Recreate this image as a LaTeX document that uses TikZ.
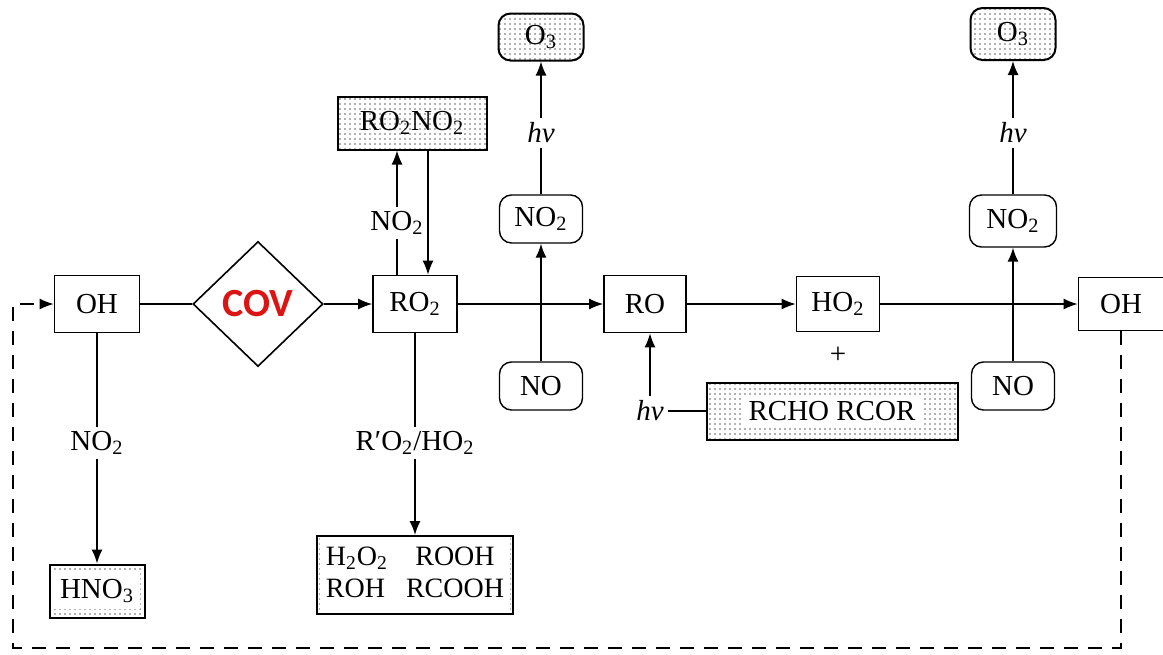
\documentclass[tikz,border=0pt]{standalone}
\usepackage{fontspec}
\setmainfont{Liberation Serif}
\newfontfamily\covfont{Carlito}
\usepackage{tikz}
\usetikzlibrary{shapes.geometric,arrows.meta,positioning,patterns.meta,calc}
\definecolor{covred}{RGB}{220,20,20}
\definecolor{dotgray}{RGB}{100,100,100}
\newcommand{\chsub}[1]{\textsubscript{#1}}
\newcommand{\hvtxt}{\textit{hv}}

\begin{document}
\begin{tikzpicture}[x=0.5pt, y=-0.5pt, font=\fontsize{14.5}{16}\selectfont,
    >={Latex[length=7pt,width=5.5pt]},
    sqbox/.style={rectangle, draw, line width=0.8pt, minimum height=28.5pt, inner sep=2pt},
    rbox/.style={rectangle, draw, line width=0.7pt, rounded corners=6pt, minimum width=41.5pt, minimum height=24pt, inner sep=2pt},
    dotfill/.style={line width=1pt, preaction={pattern={Dots[distance=2.5pt, radius=0.45pt]}, pattern color=dotgray}},
    lbl/.style={inner sep=2pt},
    link/.style={line width=0.75pt}]
        \useasboundingbox (0,0) rectangle (1163,654);

        % main chain
        \node[sqbox, minimum width=42.5pt] (oh) at (97,304) {OH};
        \node[diamond, draw, line width=0.8pt, minimum width=65pt, minimum height=62.5pt, inner sep=0pt, aspect=1, font=\covfont\bfseries\fontsize{20}{21}\selectfont, text=covred] (cov) at (258,304) {COV};
        \node[sqbox, minimum width=42pt] (ro2) at (415,304) {RO\chsub{2}};
        \node[sqbox, minimum width=41pt] (ro) at (645,304) {RO};
        \node[sqbox, minimum width=41.5pt, minimum height=27.5pt] (ho2) at (838,304) {HO\chsub{2}};
        \node[sqbox, minimum width=42.5pt, minimum height=26.5pt] (ohend) at (1121,304) {OH};

        % peroxy nitrate branch
        \node[sqbox, dotfill, minimum width=74.5pt, minimum height=26.5pt] (ro2no2) at (412,123) {RO\chsub{2}NO\chsub{2}};
        \node[lbl] (no2up) at (397,223) {NO\chsub{2}};

        % first NO -> NO2 -> O3
        \node[rbox] (noa) at (541,386) {NO};
        \node[rbox] (no2a) at (541,219) {NO\chsub{2}};
        \node[lbl] (hva) at (541,133) {\hvtxt};
        \node[rbox, dotfill, minimum width=42.5pt, minimum height=23.5pt] (o3a) at (541,37) {O\chsub{3}};

        % second NO -> NO2 -> O3
        \node[rbox] (nob) at (1013,386) {NO};
        \node[rbox, minimum width=43.5pt, minimum height=26pt] (no2b) at (1013,221) {NO\chsub{2}};
        \node[lbl] (hvb) at (1013,133) {\hvtxt};
        \node[rbox, dotfill, minimum width=42.5pt, minimum height=26pt] (o3b) at (1013,34) {O\chsub{3}};

        % carbonyls
        \node[lbl] (plus) at (838,355) {+};
        \node[sqbox, dotfill, minimum width=125.5pt] (rcho) at (832,411) {\colorbox{white}{RCHO RCOR}};
        \node[lbl] (hvc) at (650,411) {\hvtxt};

        % sinks
        \node[lbl] (no2down) at (97,443) {NO\chsub{2}};
        \node[sqbox, dotfill, minimum width=47.5pt, minimum height=26.5pt] (hno3) at (97,591) {\colorbox{white}{HNO\chsub{3}}};
        \node[lbl] (radlbl) at (415,443) {R′O\chsub{2}/HO\chsub{2}};
        \node[sqbox, dotfill, minimum width=98pt, minimum height=35pt, inner sep=1pt] (prod) at (415,575)
            {\colorbox{white}{\fontsize{14}{15}\selectfont\renewcommand{\arraystretch}{1.0}\begin{tabular}{@{}l@{\hspace{9pt}}c@{}}H\chsub{2}O\chsub{2} & ROOH\\[1pt] ROH & RCOOH\end{tabular}}};

        \coordinate (dnx) at (428,0);

        \draw[link] (oh) -- (cov);
        \draw[link, ->] (cov) -- (ro2);
        \draw[link, ->] (ro2) -- (ro);
        \draw[link, ->] (ro) -- (ho2);
        \draw[link, ->] (ho2) -- (ohend);

        \draw[link] (ro2.north -| no2up) -- (no2up);
        \draw[link, ->] (no2up) -- (no2up |- ro2no2.south);
        \draw[link, ->] (ro2no2.south -| dnx) -- (ro2.north -| dnx);

        \draw[link, ->] (noa) -- (no2a);
        \draw[link] (no2a) -- (hva);
        \draw[link, ->] (hva) -- (o3a);

        \draw[link, ->] (nob) -- (no2b);
        \draw[link] (no2b) -- (hvb);
        \draw[link, ->] (hvb) -- (o3b);

        \draw[link] (hvc) -- (rcho);
        \draw[link, ->] (hvc.north) -- (hvc.north |- ro.south);

        \draw[link] (oh) -- (no2down);
        \draw[link, ->] (no2down) -- (hno3);
        \draw[link] (ro2) -- (radlbl);
        \draw[link, ->] (radlbl) -- (prod);

        % recycling of OH
        \draw[link, dashed, dash pattern=on 7pt off 5pt, ->] (ohend.south) -- (ohend.south |- 0,648) -- (13,648) -- (13,304) -- (oh.west);
      \end{tikzpicture}
\end{document}
